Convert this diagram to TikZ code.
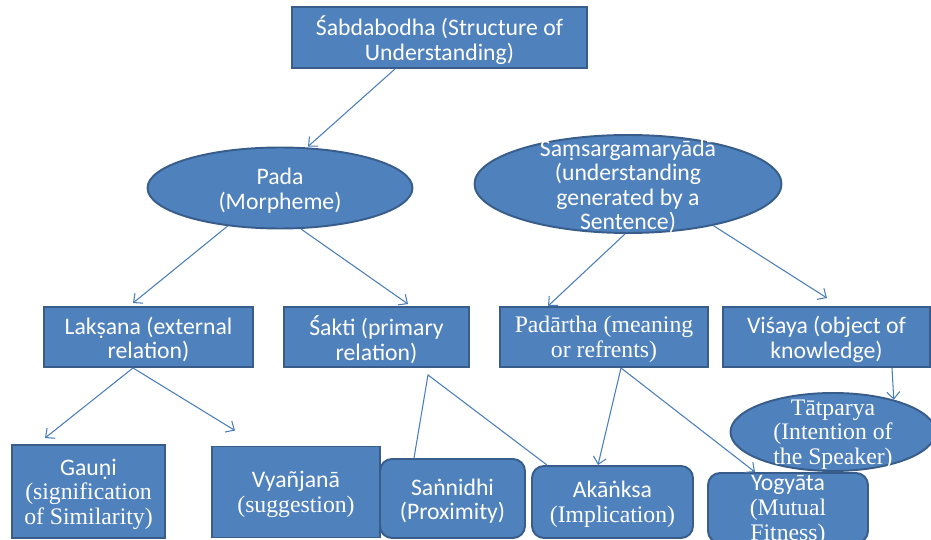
\documentclass[tikz,border=0pt]{standalone}
\usepackage{fontspec}
\setmainfont{Carlito}
\newfontfamily\tms{Liberation Serif}
\usetikzlibrary{shapes.geometric,arrows.meta}
\definecolor{blu}{HTML}{4F81BD}
\definecolor{bdr}{HTML}{385D8A}
\definecolor{lnkc}{HTML}{4A7EBB}
\tikzset{
  txt/.style={text=white, align=center, font=\fontsize{13.5}{14}\selectfont, inner sep=0pt, yshift=-0.05cm},
  blk/.style={draw=bdr, fill=blu, line width=1.1pt, inner sep=0pt, label={[txt]center:#1}},
  rbox/.style={blk=#1, rounded corners=0.24cm},
  oval/.style={blk=#1, ellipse},
  lnk/.style={draw=lnkc, line width=0.6pt},
  arr/.style={lnk, -{Straight Barb[length=1.4mm,width=2.6mm]}}
}
\begin{document}
\begin{tikzpicture}[x=0.02cm, y=-0.02cm]
\def \ya{37.5};
\def \yb{337};

% background
\useasboundingbox[fill=white] (0,0) rectangle (931,540);

\node[blk={Śabdabodha (Structure of\\Understanding)}, minimum width=5.9cm, minimum height=1.22cm] (sab) at (439.5,\ya) {};

\node[oval={Pada\\(Morpheme)}, minimum width=5.3cm, minimum height=1.62cm] (pada) at (280,188) {};
\node[oval={Saṃsargamaryādā\\(understanding\\generated by a\\Sentence)}, minimum width=6.14cm, minimum height=1.96cm] (sam) at (628,184) {};

\node[blk={Lakṣana (external\\relation)}, minimum width=4.18cm, minimum height=1.2cm] (lak) at (148.5,\yb) {};
\node[blk={Śakti (primary\\relation)}, minimum width=3.7cm, minimum height=1.2cm] (sak) at (376.5,\yb) {};
\node[blk={{\tms Padārtha (meaning}\\{\tms or refrents)}}, minimum width=4.16cm, minimum height=1.2cm] (pad) at (604,\yb) {};
\node[blk={Viśaya (object of\\knowledge)}, minimum width=4.14cm, minimum height=1.2cm] (vis) at (826.5,\yb) {};

\node[oval={{\tms Tātparya}\\{\tms (Intention of}\\{\tms the Speaker)}}, minimum width=4.1cm, minimum height=1.56cm] (tat) at (833,432) {};

% bottom row
\node[blk={Gauṇi\\{\tms (signification}\\{\tms of Similarity)}}, minimum width=3.06cm, minimum height=1.86cm] (gau) at (88.5,491.5) {};
\node[blk={Vyañjanā\\{\tms (suggestion)}}, minimum width=3.36cm, minimum height=1.82cm] (vya) at (296,492) {};
\node[rbox={Saṅnidhi\\(Proximity)}, minimum width=2.9cm, minimum height=1.58cm] (san) at (452.5,498.5) {};
\node[rbox={Akāṅksa\\{\tms (Implication)}}, minimum width=3.22cm, minimum height=1.44cm] (aka) at (612.5,502) {};
\node[rbox={Yogyāta\\{\tms (Mutual}\\{\tms Fitness)}}, minimum width=3.2cm, minimum height=1.4cm] (yog) at (788,508) {};

% links
\draw[arr] ([xshift=-0.89cm]sab.south) -- ([xshift=0.56cm]pada.north);
\draw[arr] (pada.-144) -- ([xshift=-0.31cm,yshift=0.06cm]lak.north);
\draw[arr] (pada.-63) -- ([xshift=0.63cm,yshift=0.04cm]sak.north);
\draw[arr] ([xshift=-0.06cm]sam.south) -- ([xshift=-1.12cm]pad.north);
\draw[arr] (sam.-26) -- ([xshift=0.01cm,yshift=0.16cm]vis.north);
\draw[arr] ([xshift=-0.31cm]lak.south) -- ([xshift=-0.87cm,yshift=0.12cm]gau.north);
\draw[arr] ([xshift=-0.31cm]lak.south) -- ([xshift=-1.22cm,yshift=0.3cm]vya.north);
\coordinate (fk) at ([xshift=1.03cm,yshift=-0.14cm]sak.south);
\draw[lnk] ([xshift=-0.77cm]san.north) -- (fk) -- ([xshift=-1.31cm]aka.north);
\draw[arr] ([xshift=0.34cm]pad.south) -- ([xshift=-0.29cm]aka.north);
\draw[arr] ([xshift=0.34cm]pad.south) -- ([xshift=-0.66cm]yog.north);
\draw[arr] ([xshift=1.31cm]vis.south) -- (tat.28);

\end{tikzpicture}
\end{document}
